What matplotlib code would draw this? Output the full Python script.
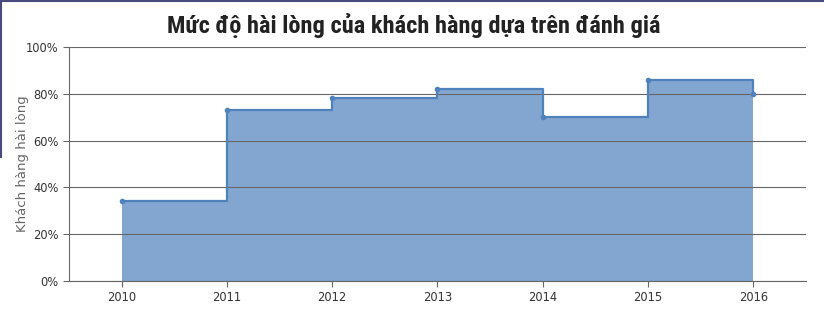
import matplotlib.pyplot as plt
from matplotlib.lines import Line2D

years = [2010, 2011, 2012, 2013, 2014, 2015, 2016]
satisfaction = [34, 73, 78, 82, 70, 86, 80]
y_ticks = [0, 20, 40, 60, 80, 100]
y_tick_labels = ['0%', '20%', '40%', '60%', '80%', '100%']

line_color = '#4F81BC'

fig = plt.figure(figsize=(8.24, 3.2), dpi=100)
ax = fig.add_axes([0.0837, 0.1219, 0.8943, 0.7313])

ax.fill_between(years, satisfaction, 0, step='post', color=line_color, alpha=0.7, linewidth=0)
ax.step(years, satisfaction, where='post', color=line_color, linewidth=1.6)
ax.scatter(years, satisfaction, color=line_color, s=9, zorder=3)

ax.set_xlim(2009.5, 2016.5)
ax.set_ylim(0, 100)
ax.set_xticks(years)
ax.set_xticklabels([str(y) for y in years])
ax.set_yticks(y_ticks)
ax.set_yticklabels(y_tick_labels)
ax.yaxis.grid(True, color='#666666', linewidth=0.8)
for line in ax.get_ygridlines():
    line.set_zorder(1.5)

for s in ['top', 'right']:
    ax.spines[s].set_visible(False)
for s in ['left', 'bottom']:
    ax.spines[s].set_color('#666666')
    ax.spines[s].set_linewidth(0.8)
ax.tick_params(axis='both', colors='#666666', length=4, width=0.8, labelsize=8.3)
for lbl in ax.get_xticklabels() + ax.get_yticklabels():
    lbl.set_color('#333333')

ax.set_ylabel('Khách hàng hài lòng', fontsize=9.5, color='#666666')
ax.yaxis.set_label_coords(-0.054, 0.5)

fig.text(0.502, 0.92, 'Mức độ hài lòng của khách hàng dựa trên đánh giá',
         ha='center', va='center', fontsize=17.6, fontweight='bold',
         fontstretch='condensed', family=['Roboto Condensed', 'DejaVu Sans'],
         color='#222222')

# page border remnants
fig.add_artist(Line2D([0, 1], [0.997, 0.997], color='#4B4A7E', linewidth=1.5, transform=fig.transFigure))
fig.add_artist(Line2D([0.001, 0.001], [1, 1 - 157 / 320], color='#4B4A7E', linewidth=1.5, transform=fig.transFigure))

fig.savefig('out.png', dpi=100)
